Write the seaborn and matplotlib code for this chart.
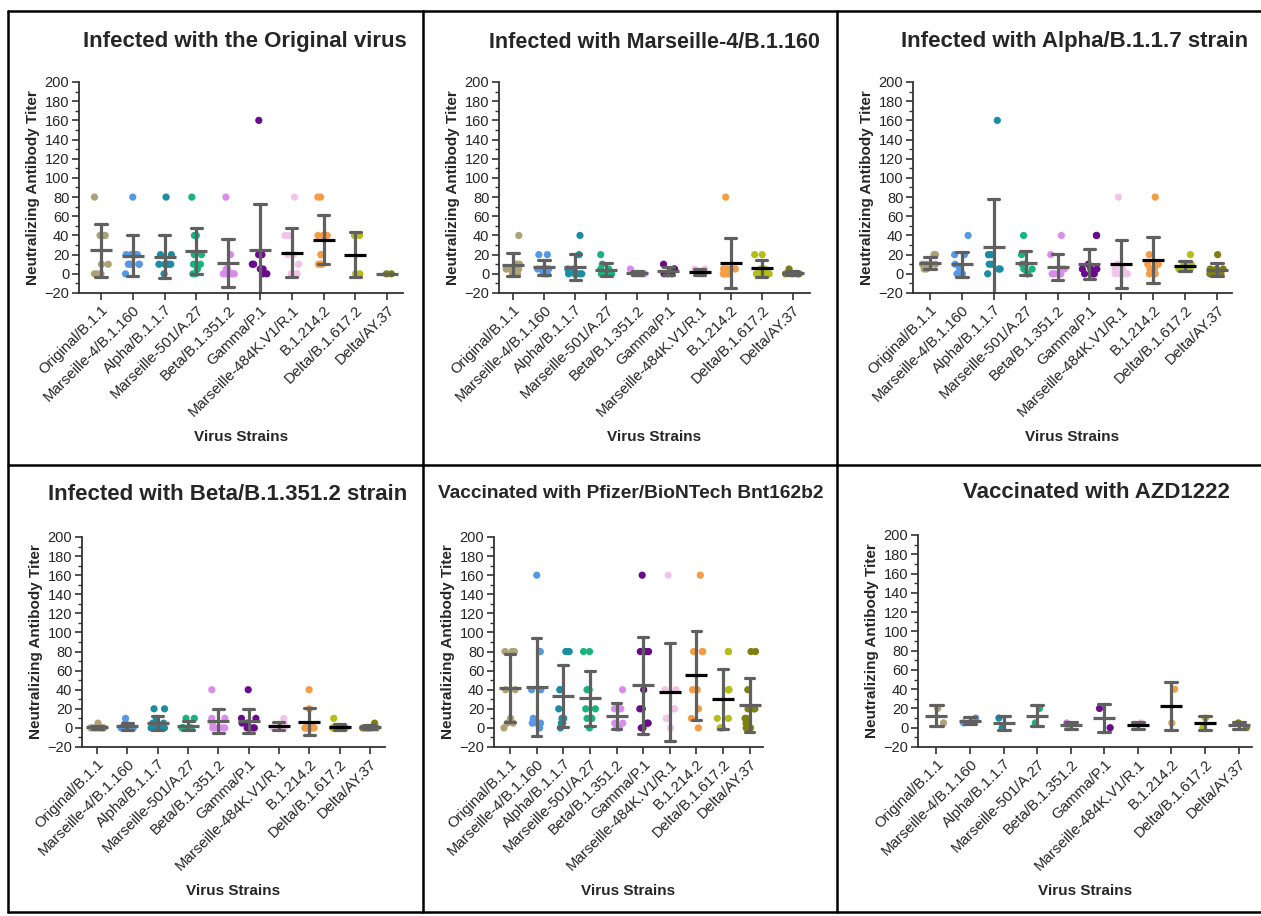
import warnings
import numpy as np
import pandas as pd
import matplotlib
matplotlib.use("Agg")
import matplotlib.pyplot as plt
from matplotlib.lines import Line2D
from matplotlib.ticker import MultipleLocator
import seaborn as sns

warnings.filterwarnings("ignore")
np.random.seed(7)   # only for the horizontal jitter of the dots

# ─── Data ─────────────────────────────────────────────────────────────────────

STRAINS = ["Original/B.1.1", "Marseille-4/B.1.160", "Alpha/B.1.1.7",
           "Marseille-501/A.27", "Beta/B.1.351.2", "Gamma/P.1",
           "Marseille-484K.V1/R.1", "B.1.214.2", "Delta/B.1.617.2", "Delta/AY.37"]

TITLES = ["Infected with the Original virus", "Infected with Marseille-4/B.1.160",
          "Infected with Alpha/B.1.1.7 strain", "Infected with Beta/B.1.351.2 strain",
          "Vaccinated with Pfizer/BioNTech Bnt162b2", "Vaccinated with AZD1222"]

# neutralizing titers per strain (one list per strain, order = STRAINS)
original_inf = [
    [80, 40, 40, 40, 10, 10, 0, 0, 0],
    [80, 20, 20, 20, 20, 10, 10, 10, 10, 10, 0],
    [80, 20, 20, 10, 10, 10, 10, 10, 10, 0],
    [80, 40, 40, 40, 20, 20, 10, 10, 5, 0, 0],
    [80, 20, 5, 5, 0, 0, 0, 0, 0, 0],
    [160, 20, 20, 20, 10, 10, 5, 5, 0, 0],
    [80, 40, 40, 20, 20, 10, 10, 0, 0, 0],
    [80, 80, 40, 40, 40, 40, 20, 20, 10, 10, 10],
    [40, 40, 0, 0],
    [0, 0],
]
marseille4_inf = [
    [40, 10, 10, 10, 5, 5, 5, 0, 0],
    [20, 20, 5, 5, 5, 5, 0, 0, 0],
    [40, 20, 5, 5, 0, 0, 0, 0, 0, 0],
    [20, 10, 5, 5, 0, 0, 0, 0, 0],
    [5, 0, 0, 0, 0],
    [10, 5, 5, 0, 0, 0],
    [5, 5, 0, 0, 0],
    [80, 5, 5, 5, 5, 0, 0, 0, 0],
    [20, 20, 5, 5, 0, 0, 0, 0, 0],
    [5, 0, 0, 0, 0],
]
alpha_inf = [
    [20, 20, 10, 10, 10, 10, 5, 5],
    [40, 20, 20, 10, 5, 5, 0, 0, 0, 0],
    [160, 20, 20, 20, 10, 10, 5, 5, 0],
    [40, 20, 10, 10, 10, 5, 5, 0, 0],
    [40, 20, 5, 5, 0, 0, 0, 0, 0, 0],
    [40, 40, 10, 5, 5, 5, 0, 0, 0, 0],
    [80, 10, 5, 5, 0, 0, 0, 0, 0, 0],
    [80, 20, 10, 10, 10, 5, 5, 5, 0, 0],
    [20, 10, 10, 5, 5, 5, 5, 5],
    [20, 5, 5, 5, 0, 0, 0, 0],
]
beta_inf = [
    [5, 0, 0, 0, 0, 0, 0, 0],
    [10, 5, 0, 0, 0, 0, 0, 0],
    [20, 20, 10, 5, 5, 5, 0, 0, 0, 0, 0, 0],
    [10, 10, 0, 0, 0, 0, 0, 0],
    [40, 10, 10, 5, 0, 0, 0, 0, 0],
    [40, 10, 10, 5, 5, 0, 0, 0, 0, 0],
    [10, 5, 0, 0, 0, 0],
    [40, 20, 0, 0, 0, 0, 0, 0, 0],
    [10, 0, 0, 0, 0, 0, 0, 0, 0],
    [5, 0, 0, 0, 0, 0, 0],
]
pfizer_vac = [
    [80, 80, 80, 80, 40, 40, 10, 5, 5, 0],
    [160, 80, 80, 40, 40, 10, 5, 5, 5, 0],
    [80, 80, 80, 40, 40, 20, 10, 10, 5, 5, 0],
    [80, 80, 40, 40, 20, 20, 10, 10, 10, 0],
    [40, 20, 20, 20, 5, 5, 0, 0, 0],
    [160, 80, 80, 80, 40, 20, 20, 5, 5, 0, 0],
    [160, 40, 40, 20, 20, 10, 10, 0],
    [160, 80, 80, 80, 40, 40, 40, 20, 10, 0],
    [80, 80, 40, 40, 40, 10, 10, 0, 0, 0],
    [80, 80, 40, 20, 20, 20, 10, 10, 5, 5, 0, 0],
]
azd_vac = [
    [20, 5], [10, 5], [10, 0], [20, 5], [5, 0],
    [20, 0], [5, 0], [40, 5], [10, 0], [5, 0],
]
PANELS = [original_inf, marseille4_inf, alpha_inf, beta_inf, pfizer_vac, azd_vac]

COLORS = ["#ADA274", "#5599E6", "#1C8CA3", "#1AB37C", "#D98CEB",
          "#6A0A8C", "#F2C4EA", "#F59C45", "#B4BE16", "#7D7F12"]
MEAN_COLORS = ["#606060"] * 6 + ["#000000"] * 3 + ["#606060"]

# ─── Layout (pixels of a 1261x916 canvas) ─────────────────────────────────────

W, H = 1261, 916
# left, right, top, bottom of each plotting area
AX_BOX = [(79, 403, 82, 293), (499, 810, 82, 293), (913, 1232, 82, 293),
          (82, 385, 537, 747), (494, 763, 537, 747), (918, 1252, 535, 747)]
XLIMS = [(-0.69, 9.5), (-0.45, 9.55), (-0.53, 9.47),
         (-0.5, 9.5), (-0.6, 9.5), (-0.55, 9.4)]
TITLE_POS = [(407, 42), (820, 42), (1248, 42), (407, 495), (824, 493), (1230, 493)]
TITLE_SIZE = [16, 15.5, 16, 16, 13.8, 16]

sns.set_style("ticks")
plt.rcParams["font.family"] = ["Liberation Sans", "DejaVu Sans"]

fig = plt.figure(figsize=(W / 100, H / 100), dpi=100)
palette = dict(zip(STRAINS, COLORS))
mean_pal = dict(zip(STRAINS, MEAN_COLORS))

for i, values in enumerate(PANELS):
    df = pd.DataFrame(
        [(s, v) for s, vals in zip(STRAINS, values) for v in vals],
        columns=["strain", "titer"],
    )
    l, r, t, b = AX_BOX[i]
    ax = fig.add_axes([l / W, 1 - b / H, (r - l) / W, (b - t) / H])

    sns.stripplot(data=df, x="strain", y="titer", hue="strain", order=STRAINS,
                  hue_order=STRAINS, palette=palette, size=5.2, linewidth=0,
                  jitter=0.24, legend=False, ax=ax, zorder=2)
    sns.pointplot(data=df, x="strain", y="titer", order=STRAINS, errorbar="sd",
                  capsize=0.36, color="#606060", linestyle="none", markersize=0,
                  err_kws={"linewidth": 2.3}, ax=ax)
    sns.pointplot(data=df, x="strain", y="titer", hue="strain", order=STRAINS,
                  hue_order=STRAINS, palette=mean_pal, errorbar=None, marker="_",
                  markersize=16, markeredgewidth=2.3, linestyle="none",
                  dodge=False, legend=False, ax=ax)

    ax.set_ylim(-20, 200)
    ax.set_xlim(*XLIMS[i])
    ax.yaxis.set_major_locator(MultipleLocator(20))
    ax.yaxis.set_minor_locator(MultipleLocator(10))
    ax.tick_params(axis="y", which="major", length=5, width=1.2, labelsize=10.5,
                   pad=2, color="#333333")
    ax.tick_params(axis="y", which="minor", length=3, width=1.0, color="#333333")
    ax.tick_params(axis="x", length=5, width=1.2, labelsize=10.8, pad=2,
                   color="#333333")
    ax.set_xticks(range(len(STRAINS)))
    ax.set_xticklabels(STRAINS, rotation=45, ha="right", rotation_mode="anchor")
    sns.despine(ax=ax)
    for sp in ("left", "bottom"):
        ax.spines[sp].set_linewidth(1.3)
        ax.spines[sp].set_color("#333333")
    ax.set_ylabel("Neutralizing Antibody Titer", fontsize=11, fontweight="bold",
                  labelpad=3)
    ax.set_xlabel("Virus Strains", fontsize=11, fontweight="bold", labelpad=8)
    ax.grid(False)

    tx, ty = TITLE_POS[i]
    fig.text(tx / W, 1 - ty / H, TITLES[i], ha="right", va="center",
             fontsize=TITLE_SIZE[i], fontweight="bold")

# panel frames
def hline(y, x0=8, x1=W):
    fig.add_artist(Line2D([x0 / W, x1 / W], [1 - y / H, 1 - y / H],
                          color="black", lw=1.8, transform=fig.transFigure))

def vline(x, y0=11, y1=912):
    fig.add_artist(Line2D([x / W, x / W], [1 - y0 / H, 1 - y1 / H],
                          color="black", lw=1.8, transform=fig.transFigure))

hline(11)
hline(465)
hline(912)
vline(8)
vline(423)
vline(837)

fig.savefig("out.png", dpi=100, facecolor="white")
